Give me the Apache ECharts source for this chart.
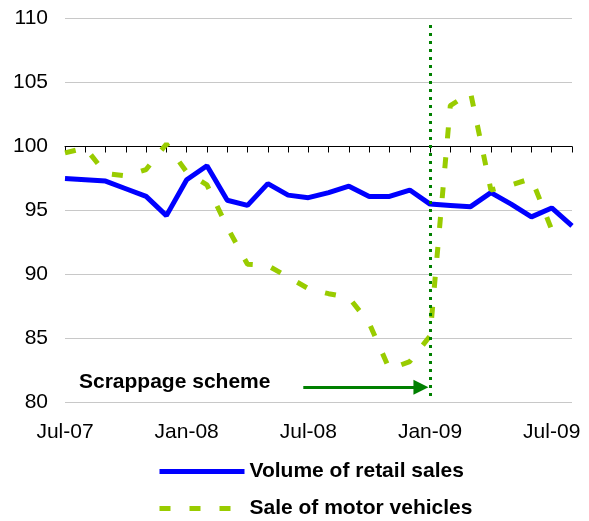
<!DOCTYPE html>
<html>
<head>
<meta charset="utf-8">
<script src="https://cdn.jsdelivr.net/npm/echarts@6.0.0/dist/echarts.min.js"></script>
<style>
  html, body { margin: 0; padding: 0; background: #fff; }
  #chart { width: 589px; height: 521px; }
</style>
</head>
<body>
<div id="chart"></div>
<script>
var months = ['Jul-07', 'Aug-07', 'Sep-07', 'Oct-07', 'Nov-07', 'Dec-07',
  'Jan-08', 'Feb-08', 'Mar-08', 'Apr-08', 'May-08', 'Jun-08',
  'Jul-08', 'Aug-08', 'Sep-08', 'Oct-08', 'Nov-08', 'Dec-08',
  'Jan-09', 'Feb-09', 'Mar-09', 'Apr-09', 'May-09', 'Jun-09',
  'Jul-09', 'Aug-09'];
var retailSales = [97.5, 97.4, 97.3, 96.7, 96.1, 94.6, 97.4, 98.5, 95.8, 95.4, 97.1, 96.2,
  96.0, 96.4, 96.9, 96.1, 96.1, 96.6, 95.5, 95.4, 95.3, 96.4, 95.5, 94.5, 95.2, 93.8];
var motorVehicles = [99.5, 99.9, 97.9, 97.7, 98.2, 100.2, 98.0, 97.0, 93.7, 90.8, 90.7, 89.8,
  88.9, 88.5, 88.2, 86.2, 82.6, 83.2, 85.2, 103.2, 104.2, 96.6, 97.0, 97.5, 93.5, null];
var yTicks = { min: 80, max: 110, step: 5 };
var crossAt = 100;          // value where the month axis crosses
var schemeMonth = 'Jan-09'; // start of the scrappage scheme
// arrow in month-index units (0 = Jul-07)
var arrowFrom = 11.75, arrowTo = 17.55, arrowLevel = 81.2;

var font = '"Liberation Sans", Arial, sans-serif';
var gridTop = 18.5, gridHeight = 384;
var crossOffset = gridHeight * (crossAt - yTicks.min) / (yTicks.max - yTicks.min);

var chart = echarts.init(document.getElementById('chart'));
chart.setOption({
  animation: false,
  grid: { left: 65, right: 17, top: gridTop, height: gridHeight },
  xAxis: [{
    type: 'category',
    data: months,
    boundaryGap: false,
    axisLine: { show: false },
    axisTick: { show: false },
    axisLabel: { interval: 5, margin: 19, color: '#000', fontSize: 21, fontFamily: font },
    splitLine: { show: false }
  }, {
    type: 'category',
    data: months,
    position: 'bottom',
    offset: -crossOffset,
    boundaryGap: false,
    axisLine: { show: true, lineStyle: { color: '#000', width: 1 } },
    axisTick: { show: true, interval: 0, length: 6, lineStyle: { color: '#000' } },
    axisLabel: { show: false },
    splitLine: { show: false }
  }, {
    // hidden month-index axis for the annotation arrow
    type: 'value',
    min: 0, max: months.length - 1,
    show: false,
    splitLine: { show: false }
  }],
  yAxis: {
    type: 'value',
    min: yTicks.min, max: yTicks.max, interval: yTicks.step,
    axisLine: { show: false },
    axisTick: { show: false },
    axisLabel: { margin: 17, color: '#000', fontSize: 21, fontFamily: font },
    splitLine: { lineStyle: { color: '#c8c8c8', width: 1 } }
  },
  legend: {
    orient: 'vertical',
    left: 157, top: 461,
    padding: 0,
    itemWidth: 85, itemHeight: 14, itemGap: 16,
    itemStyle: { opacity: 0 },
    lineStyle: { width: 5 },
    textStyle: { color: '#000', fontSize: 21, fontWeight: 'bold', fontFamily: font },
    data: ['Volume of retail sales', 'Sale of motor vehicles']
  },
  graphic: [{
    type: 'text',
    x: 79, y: 382,
    style: { text: 'Scrappage scheme', font: 'bold 21px ' + font, fill: '#000', verticalAlign: 'middle' }
  }],
  series: [{
    name: 'Volume of retail sales',
    type: 'line',
    data: retailSales,
    symbol: 'none',
    lineStyle: { color: '#0000ff', width: 5 },
    itemStyle: { color: '#0000ff' }
  }, {
    name: 'Sale of motor vehicles',
    type: 'line',
    data: motorVehicles,
    symbol: 'none',
    lineStyle: { color: '#99cc00', width: 5, type: [11, 19], cap: 'butt' },
    itemStyle: { color: '#99cc00' },
    markLine: {
      silent: true,
      animation: false,
      label: { show: false },
      data: [
        [{ coord: [schemeMonth, 109.5], symbol: 'none',
           lineStyle: { color: '#008000', width: 3, type: [3, 5] } },
         { coord: [schemeMonth, 80.4], symbol: 'none' }]
      ]
    }
  }, {
    name: 'arrow',
    type: 'line',
    xAxisIndex: 2,
    data: [],
    symbol: 'none',
    markLine: {
      silent: true,
      animation: false,
      label: { show: false },
      data: [
        [{ coord: [arrowFrom, arrowLevel], symbol: 'none',
           lineStyle: { color: '#008000', width: 3, type: 'solid' } },
         { coord: [arrowTo, arrowLevel], symbol: 'triangle', symbolSize: 15 }]
      ]
    }
  }]
});
</script>
</body>
</html>
